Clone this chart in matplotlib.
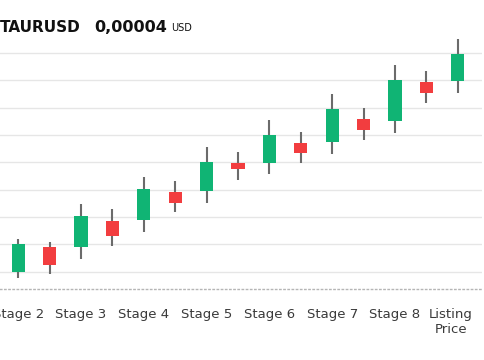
import matplotlib
matplotlib.use("Agg")
import matplotlib.pyplot as plt
import matplotlib.transforms as mtransforms
import numpy as np

stage_labels = ["Stage 2", "Stage 3", "Stage 4", "Stage 5", "Stage 6", "Stage 7", "Stage 8", "Listing\nPrice"]
opens  = [0.97, 1.91, 1.89, 2.86, 2.89, 3.91, 3.95, 4.97, 4.98, 5.69, 5.74, 6.57, 6.51, 7.93, 7.98]
closes = [2.00, 1.23, 3.03, 2.31, 4.02, 3.52, 5.01, 4.74, 5.99, 5.35, 6.95, 6.19, 8.01, 7.55, 8.96]
highs  = [2.19, 2.07, 3.46, 3.28, 4.46, 4.31, 5.57, 5.38, 6.55, 6.12, 7.50, 6.98, 8.56, 8.34, 9.51]
lows   = [0.77, 0.92, 1.46, 1.95, 2.46, 3.17, 3.52, 4.36, 4.56, 4.98, 5.31, 5.82, 6.08, 7.17, 7.54]
grid_levels = [1, 2, 3, 4, 5, 6, 7, 8, 9]

GREEN = "#10b474"
RED = "#f23d3f"
WICK = "#6b6b6b"

fig = plt.figure(figsize=(4.85, 3.6), dpi=100)
ax = fig.add_axes([0.0, 0.1972, 482/485, 0.7056])

x = np.arange(len(opens))
for xi, o, h, l, c in zip(x, opens, highs, lows, closes):
    col = GREEN if c >= o else RED
    ax.vlines(xi, l, h, color=WICK, linewidth=1.5, zorder=2)
    ax.bar(xi, abs(c - o), bottom=min(o, c), width=0.42, color=col, zorder=3)

ax.set_xlim(-0.583, 14.77)
ax.set_ylim(0.359, 9.66)
ax.set_yticks(grid_levels)
ax.set_yticklabels([])
ax.tick_params(axis="y", length=0)
ax.grid(axis="y", color="#e6e6e6", linewidth=1.0, zorder=0)
ax.set_axisbelow(True)

ax.set_xticks(x[::2])
ax.set_xticklabels(stage_labels, fontsize=9.5, color="#3a3a3a", linespacing=1.15)
ax.tick_params(axis="x", length=0, pad=14)
last = ax.get_xticklabels()[-1]
last.set_transform(last.get_transform() + mtransforms.ScaledTranslation(-7 / 100, 0, fig.dpi_scale_trans))

for s in ["top", "left", "right"]:
    ax.spines[s].set_visible(False)
ax.spines["bottom"].set_color("#b5b5b5")
ax.spines["bottom"].set_linestyle((0, (1, 2)))
ax.spines["bottom"].set_linewidth(1.0)

fig.text(0 / 485, 1 - 27 / 360, "TAURUSD", fontsize=11, fontweight="bold", color="#111111", va="center", ha="left")
fig.text(94 / 485, 1 - 27 / 360, "0,00004", fontsize=11.5, fontweight="bold", color="#111111", va="center", ha="left")
fig.text(171 / 485, 1 - 28 / 360, "USD", fontsize=7, color="#111111", va="center", ha="left")

fig.savefig("out.png", dpi=100)
